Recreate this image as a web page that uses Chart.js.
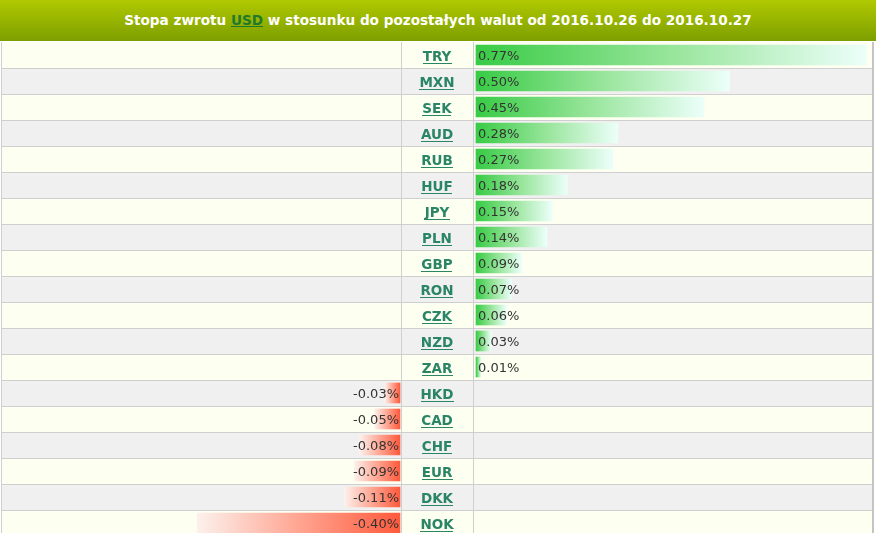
<!DOCTYPE html>
<html>
<head>
<meta charset="utf-8">
<script src="https://cdn.jsdelivr.net/npm/chart.js@4.4.0/dist/chart.umd.min.js"></script>
<style>
  body { margin: 0; background: #fff; overflow: hidden; }
  #header {
    position: absolute; left: 0; top: 0; width: 876px; height: 41px;
    background: linear-gradient(#b0c900, #7d9e00);
    color: #fff; font: bold 13.6px "DejaVu Sans", sans-serif;
    text-align: center; line-height: 41px;
  }
  #header a { color: #1f7a2e; text-decoration: underline; }
  #wrap { position: absolute; left: 0; top: 42px; width: 876px; height: 494px; }
</style>
</head>
<body>
<div id="header">Stopa zwrotu <a>USD</a> w stosunku do pozostałych walut od 2016.10.26 do 2016.10.27</div>
<div id="wrap"><canvas id="returnsChart" width="876" height="494"></canvas></div>
<script>
const currencies = ['TRY', 'MXN', 'SEK', 'AUD', 'RUB', 'HUF', 'JPY', 'PLN', 'GBP', 'RON',
                    'CZK', 'NZD', 'ZAR', 'HKD', 'CAD', 'CHF', 'EUR', 'DKK', 'NOK'];
const returns = [0.77, 0.50, 0.45, 0.28, 0.27, 0.18, 0.15, 0.14, 0.09, 0.07,
                 0.06, 0.03, 0.01, -0.03, -0.05, -0.08, -0.09, -0.11, -0.40];

// layout of the table
const W = 876;
const negZero = 400;   // x where negative bars end
const posZero = 476;   // x where positive bars start
const pxPerPct = 507;
const tableRight = 873;

const posData = returns.map(v => v > 0 ? v : null);
const negData = returns.map(v => v < 0 ? v : null);

const posFill = (context) => {
  const chart = context.chart;
  if (!chart.chartArea) return '#3ccc46';
  const sc = chart.scales.xp;
  const v = returns[context.dataIndex];
  const g = chart.ctx.createLinearGradient(sc.getPixelForValue(0), 0, sc.getPixelForValue(v), 0);
  g.addColorStop(0, '#38cb45');
  g.addColorStop(0.5, '#98e59b');
  g.addColorStop(1, '#ecfffa');
  return g;
};

const negFill = (context) => {
  const chart = context.chart;
  if (!chart.chartArea) return '#ff5b3d';
  const sc = chart.scales.xn;
  const v = returns[context.dataIndex];
  const g = chart.ctx.createLinearGradient(sc.getPixelForValue(v), 0, sc.getPixelForValue(0), 0);
  g.addColorStop(0, '#fcf1ec');
  g.addColorStop(0.5, '#ffa592');
  g.addColorStop(1, '#ff5a3c');
  return g;
};

const tablePlugin = {
  id: 'table',
  beforeDatasetsDraw(chart) {
    const ctx = chart.ctx;
    const y = chart.scales.y;
    const h = chart.height / currencies.length;
    ctx.save();
    currencies.forEach((c, i) => {
      const top = y.getPixelForValue(i) - h / 2;
      ctx.fillStyle = i % 2 === 0 ? '#fdfff0' : '#f0f0f0';
      ctx.fillRect(1, top, tableRight - 1, h);
    });
    ctx.fillStyle = '#cfcfcf';
    currencies.forEach((c, i) => {
      const bottom = y.getPixelForValue(i) + h / 2;
      ctx.fillRect(1, Math.round(bottom), tableRight - 1, 1);
    });
    ctx.fillRect(1, 0, 1, chart.height);
    ctx.fillRect(negZero + 1, 0, 1, chart.height);
    ctx.fillRect(posZero - 3, 0, 1, chart.height);
    ctx.fillStyle = '#c4c4c4';
    ctx.fillRect(tableRight - 1, 0, 2, chart.height);
    ctx.restore();
  },
  afterDatasetsDraw(chart) {
    const ctx = chart.ctx;
    const y = chart.scales.y;
    ctx.save();
    ctx.textBaseline = 'middle';
    currencies.forEach((c, i) => {
      const cy = y.getPixelForValue(i) + 1.5;
      const v = returns[i];
      const label = v.toFixed(2) + '%';
      ctx.font = '13px "DejaVu Sans", sans-serif';
      ctx.fillStyle = '#333';
      if (v > 0) {
        ctx.textAlign = 'left';
        ctx.fillText(label, posZero + 2, cy);
      } else {
        ctx.textAlign = 'right';
        ctx.fillText(label, negZero - 1, cy);
      }
      ctx.font = 'bold 13.5px "DejaVu Sans", sans-serif';
      ctx.fillStyle = '#2a8566';
      ctx.textAlign = 'center';
      const cx = (negZero + posZero) / 2 - 1;
      ctx.fillText(c, cx, cy + 0.5);
      const tw = ctx.measureText(c).width;
      ctx.fillRect(Math.round(cx - tw / 2), Math.round(cy + 6.5), Math.round(tw), 1);
    });
    ctx.restore();
  }
};

new Chart(document.getElementById('returnsChart'), {
  type: 'bar',
  data: {
    labels: currencies,
    datasets: [
      { data: posData, xAxisID: 'xp', backgroundColor: posFill, grouped: false, barThickness: 20, borderWidth: 0 },
      { data: negData, xAxisID: 'xn', backgroundColor: negFill, grouped: false, barThickness: 20, borderWidth: 0 }
    ]
  },
  options: {
    indexAxis: 'y',
    responsive: false,
    animation: false,
    devicePixelRatio: 1,
    layout: { padding: 0 },
    scales: {
      y: { display: false },
      xp: { type: 'linear', display: false, min: -posZero / pxPerPct, max: (W - posZero) / pxPerPct },
      xn: { type: 'linear', display: false, min: -negZero / pxPerPct, max: (W - negZero) / pxPerPct }
    },
    plugins: {
      legend: { display: false },
      tooltip: { enabled: false },
      title: { display: false }
    }
  },
  plugins: [tablePlugin]
});
</script>
</body>
</html>
